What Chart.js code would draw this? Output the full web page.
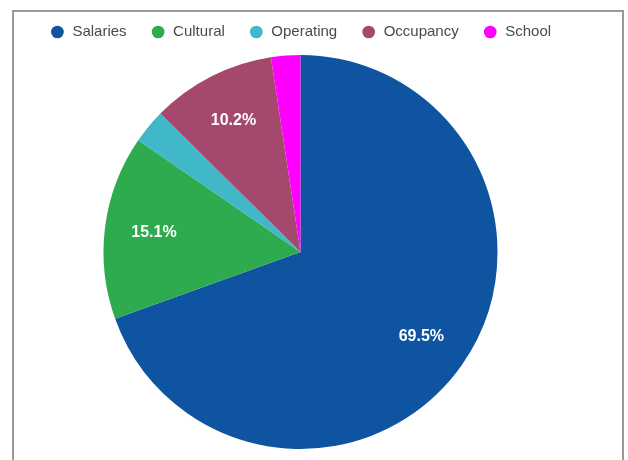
<!DOCTYPE html>
<html>
<head>
<meta charset="utf-8">
<script src="https://cdn.jsdelivr.net/npm/chart.js@4.4.1/dist/chart.umd.min.js"></script>
<style>
  html, body { margin: 0; padding: 0; background: #fff; overflow: hidden; }
  #wrap { position: absolute; left: 0; top: 0; width: 628px; height: 460px; }
  #frame { position: absolute; left: 12px; top: 10px; width: 608px; height: 470px;
           border: 2px solid #999; pointer-events: none; }
</style>
</head>
<body>
<div id="wrap"><canvas id="c"></canvas></div>
<div id="frame"></div>
<script>
const categories = ['Salaries', 'Cultural', 'Operating', 'Occupancy', 'School'];
const shares = [69.5, 15.1, 2.8, 10.2, 2.4];
const colors = ['#0f54a0', '#2eaa4f', '#40b8c8', '#a5486e', '#ff00ff'];

const sliceLabels = {
  id: 'sliceLabels',
  afterDatasetsDraw(chart) {
    const ctx = chart.ctx;
    const meta = chart.getDatasetMeta(0);
    const data = chart.data.datasets[0].data;
    ctx.save();
    ctx.fillStyle = '#ffffff';
    ctx.font = 'bold 16px "Liberation Sans", Arial, sans-serif';
    ctx.textAlign = 'center';
    ctx.textBaseline = 'middle';
    meta.data.forEach((arc, i) => {
      if (data[i] < 5) return;
      const p = arc.getProps(['x', 'y', 'startAngle', 'endAngle', 'outerRadius'], true);
      const mid = (p.startAngle + p.endAngle) / 2;
      const r = p.outerRadius * 0.75;
      ctx.fillText(data[i].toFixed(1) + '%', p.x + Math.cos(mid) * r, p.y + Math.sin(mid) * r);
    });
    ctx.restore();
  }
};

new Chart(document.getElementById('c'), {
  type: 'pie',
  data: {
    labels: categories,
    datasets: [{
      data: shares,
      backgroundColor: colors,
      borderWidth: 0,
      hoverOffset: 0
    }]
  },
  options: {
    responsive: true,
    maintainAspectRatio: false,
    animation: false,
    radius: 197,
    layout: { padding: { left: 0, right: 27, top: 0.5, bottom: 5.5 } },
    plugins: {
      tooltip: { enabled: false },
      legend: {
        position: 'top',
        labels: {
          usePointStyle: true,
          pointStyle: 'circle',
          boxWidth: 15,
          boxHeight: 9,
          padding: 24,
          color: '#4a4a4a',
          font: { size: 15, family: '"Liberation Sans", Arial, sans-serif' }
        }
      }
    }
  },
  plugins: [sliceLabels]
});
</script>
</body>
</html>
